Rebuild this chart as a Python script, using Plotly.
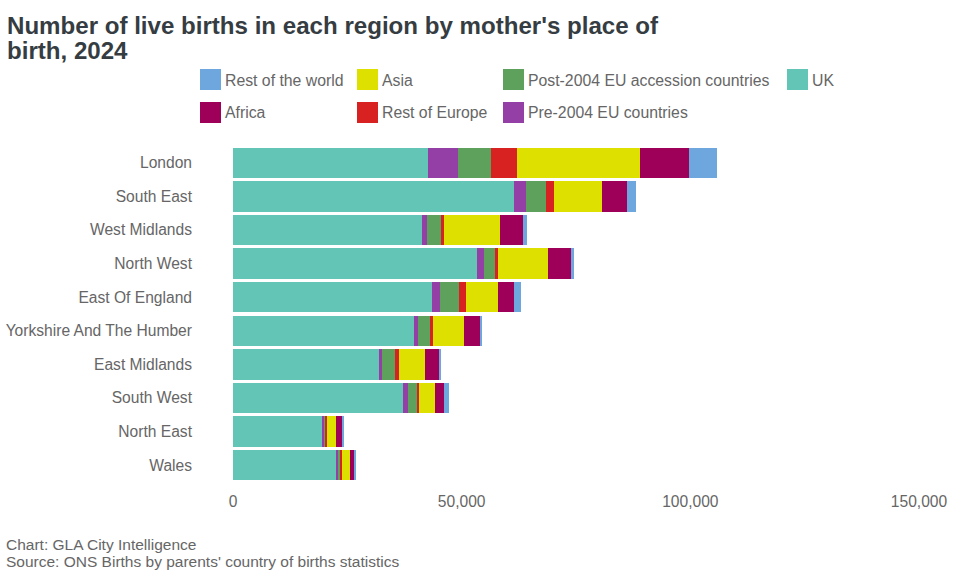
import plotly.graph_objects as go

regions = ["London", "South East", "West Midlands", "North West", "East Of England",
           "Yorkshire And The Humber", "East Midlands", "South West", "North East", "Wales"]
uk = [42590, 61370, 41280, 53290, 43460, 39530, 31890, 37130, 19440, 22500]
pre_2004 = [6550, 2620, 1090, 1530, 1750, 870, 655, 1090, 440, 440]
post_2004 = [7200, 4370, 3060, 2400, 4150, 2620, 2840, 1970, 440, 655]
rest_europe = [5680, 1750, 655, 655, 1530, 655, 870, 440, 220, 220]
asia = [27080, 10480, 12230, 10920, 6990, 6770, 5680, 3490, 1970, 1750]
africa = [10700, 5460, 5020, 5020, 3490, 3490, 3060, 1970, 1530, 1090]
rest_world = [6115, 1970, 870, 655, 1530, 440, 440, 1090, 220, 220]

series = [
    ("UK", uk, "#63c5b5"),
    ("Pre-2004 EU countries", pre_2004, "#943fa6"),
    ("Post-2004 EU accession countries", post_2004, "#5ea15d"),
    ("Rest of Europe", rest_europe, "#d82222"),
    ("Asia", asia, "#dee000"),
    ("Africa", africa, "#9e0059"),
    ("Rest of the world", rest_world, "#6da7de"),
]

W, H = 960, 576
L, R, T, B = 233, 41, 146, 94
FONT = "Liberation Sans"
GREY = "#666666"
FS = 15.6
FS_LEG = 15.8

def px(x):
    return (x - L) / (W - L - R)

def py(y):
    return 1 - (y - T) / (H - T - B)

fig = go.Figure()
for name, vals, col in series:
    fig.add_bar(name=name, x=vals, y=regions, orientation="h",
                marker=dict(color=col, line_width=0), showlegend=False)

legend_rows = [
    ("Rest of the world", "#6da7de", 200, 69),
    ("Asia", "#dee000", 357, 69),
    ("Post-2004 EU accession countries", "#5ea15d", 503, 69),
    ("UK", "#63c5b5", 787, 69),
    ("Africa", "#9e0059", 200, 102),
    ("Rest of Europe", "#d82222", 357, 102),
    ("Pre-2004 EU countries", "#943fa6", 503, 102),
]
shapes, annos = [], []
for name, col, x, y in legend_rows:
    shapes.append(dict(type="rect", xref="paper", yref="paper",
                       x0=px(x), x1=px(x + 21), y0=py(y), y1=py(y + 21),
                       fillcolor=col, line_width=0))
    annos.append(dict(text=name, xref="paper", yref="paper", showarrow=False,
                      x=px(x + 25), xanchor="left", xshift=-2,
                      y=py(y + 11), yanchor="middle",
                      font=dict(family=FONT, size=FS_LEG, color=GREY)))

for txt, y in [("Chart: GLA City Intelligence", 544),
               ("Source: ONS Births by parents' country of births statistics", 561)]:
    annos.append(dict(text=txt, xref="paper", yref="paper", showarrow=False, align="left",
                      x=px(6), xanchor="left", xshift=-2, y=py(y), yanchor="middle",
                      font=dict(family=FONT, size=15.5, color=GREY)))

annos.append(dict(text="<b>birth, 2024</b>", xref="paper", yref="paper", showarrow=False,
                  x=px(7), xanchor="left", xshift=-2, y=py(51), yanchor="middle",
                  font=dict(family=FONT, size=24.1, color="#353d42")))

fig.update_layout(
    width=W, height=H, barmode="stack", bargap=0.09,
    margin=dict(l=L, r=R, t=T, b=B, autoexpand=False),
    paper_bgcolor="white", plot_bgcolor="white",
    font=dict(family=FONT, size=FS, color=GREY),
    title=dict(text="<b>Number of live births in each region by mother's place of</b>",
               x=7 / W, xanchor="left", y=1 - 26 / H, yanchor="middle",
               font=dict(family=FONT, size=24.1, color="#353d42")),
    xaxis=dict(range=[0, 150000], tickvals=[0, 50000, 100000, 150000],
               ticktext=["0", "50,000", "100,000", "150,000"], showgrid=False, zeroline=False,
               showline=False, ticks="", ticklabelstandoff=8, tickfont=dict(size=FS, color=GREY)),
    yaxis=dict(autorange="reversed", categoryorder="array", categoryarray=regions, showgrid=False,
               zeroline=False, showline=False, ticks="", ticklabelstandoff=40,
               tickfont=dict(size=FS, color=GREY)),
    shapes=shapes, annotations=annos,
)
fig.write_html("out.html", config={"displayModeBar": False},
               post_script="document.body.style.margin='0';document.documentElement.style.overflow='hidden';")
